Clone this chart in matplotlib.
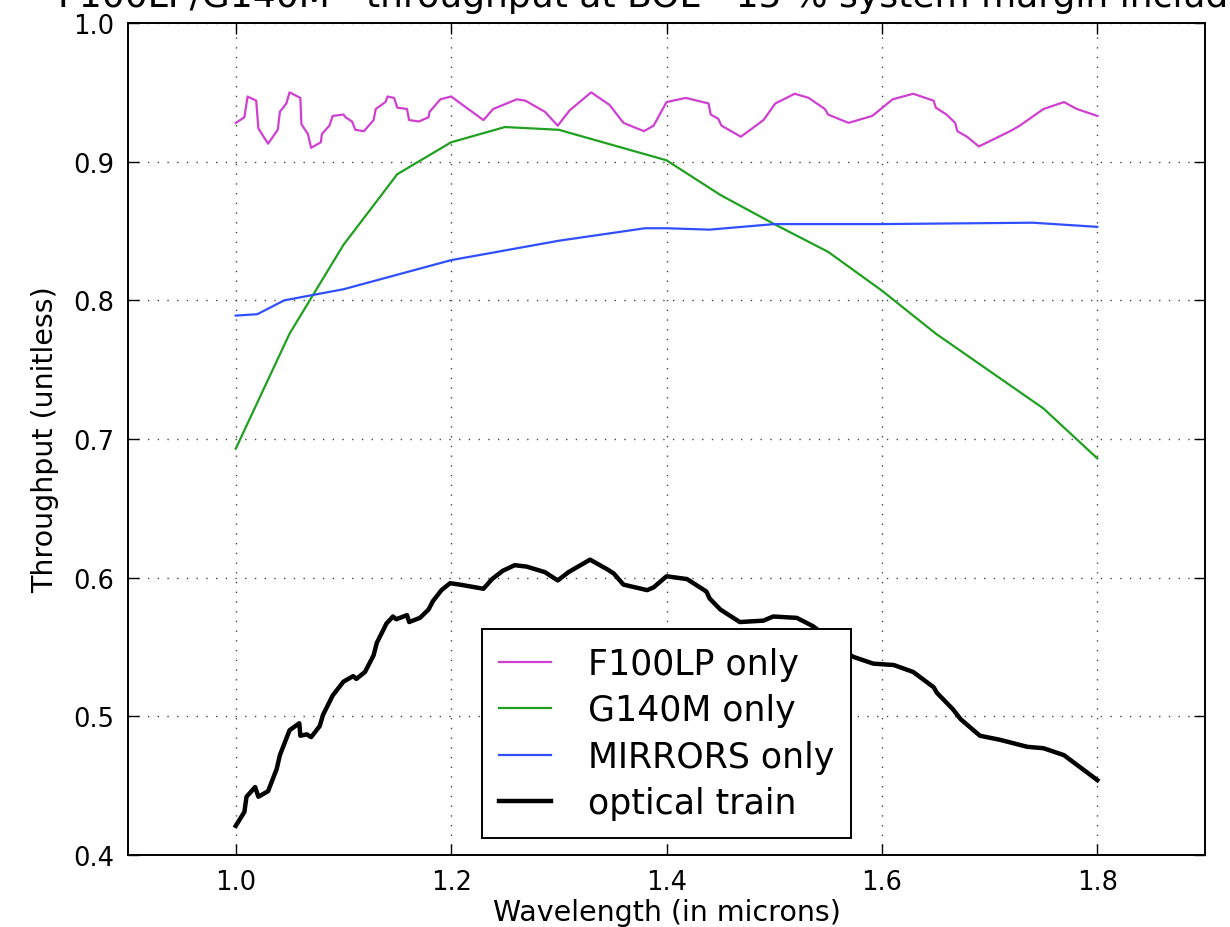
import matplotlib
matplotlib.use("Agg")
import matplotlib.pyplot as plt

# F100LP filter throughput
f100lp_wl = [1.000, 1.008, 1.011, 1.019, 1.021, 1.030, 1.039, 1.041, 1.047, 1.050,
             1.060, 1.061, 1.067, 1.070, 1.079, 1.080, 1.087, 1.090, 1.100, 1.102,
             1.108, 1.111, 1.119, 1.128, 1.130, 1.139, 1.141, 1.147, 1.150, 1.159,
             1.161, 1.170, 1.179, 1.180, 1.190, 1.200, 1.230, 1.239, 1.261, 1.269,
             1.287, 1.299, 1.310, 1.330, 1.347, 1.360, 1.379, 1.388, 1.400, 1.418,
             1.439, 1.441, 1.448, 1.451, 1.469, 1.490, 1.501, 1.519, 1.532, 1.547,
             1.550, 1.569, 1.591, 1.610, 1.629, 1.648, 1.650, 1.660, 1.668, 1.670,
             1.679, 1.690, 1.719, 1.728, 1.750, 1.769, 1.781, 1.800]
f100lp_tp = [0.928, 0.932, 0.947, 0.944, 0.924, 0.913, 0.923, 0.936, 0.942, 0.950,
             0.946, 0.927, 0.920, 0.910, 0.914, 0.920, 0.926, 0.933, 0.934, 0.932,
             0.929, 0.923, 0.922, 0.930, 0.938, 0.943, 0.947, 0.946, 0.939, 0.938,
             0.930, 0.929, 0.932, 0.936, 0.945, 0.947, 0.930, 0.938, 0.945, 0.944,
             0.936, 0.926, 0.937, 0.950, 0.941, 0.928, 0.922, 0.926, 0.943, 0.946,
             0.942, 0.934, 0.931, 0.926, 0.918, 0.930, 0.942, 0.949, 0.946, 0.938,
             0.934, 0.928, 0.933, 0.945, 0.949, 0.944, 0.939, 0.934, 0.928, 0.922,
             0.918, 0.911, 0.922, 0.926, 0.938, 0.943, 0.938, 0.933]

# G140M grating throughput
g140m_wl = [1.00, 1.05, 1.10, 1.15, 1.20, 1.25, 1.30, 1.40, 1.45, 1.50, 1.55,
            1.60, 1.65, 1.70, 1.75, 1.80]
g140m_tp = [0.693, 0.776, 0.840, 0.891, 0.914, 0.925, 0.923, 0.901, 0.876, 0.855,
            0.835, 0.807, 0.776, 0.749, 0.722, 0.686]

# mirrors throughput
mirrors_wl = [1.00, 1.02, 1.045, 1.10, 1.20, 1.30, 1.38, 1.40, 1.44, 1.50, 1.60,
              1.74, 1.80]
mirrors_tp = [0.789, 0.790, 0.800, 0.808, 0.829, 0.843, 0.852, 0.852, 0.851, 0.855,
              0.855, 0.856, 0.853]

# total optical train
train_wl = [1.000, 1.008, 1.010, 1.018, 1.021, 1.030, 1.038, 1.041, 1.050, 1.059,
            1.060, 1.066, 1.070, 1.078, 1.081, 1.090, 1.100, 1.109, 1.112, 1.120,
            1.128, 1.131, 1.140, 1.146, 1.149, 1.159, 1.161, 1.171, 1.179, 1.183,
            1.191, 1.199, 1.208, 1.230, 1.238, 1.248, 1.259, 1.270, 1.287, 1.299,
            1.309, 1.329, 1.345, 1.351, 1.360, 1.382, 1.388, 1.400, 1.419, 1.437,
            1.440, 1.450, 1.468, 1.490, 1.499, 1.521, 1.536, 1.573, 1.592, 1.611,
            1.629, 1.648, 1.651, 1.666, 1.673, 1.691, 1.710, 1.735, 1.750, 1.769,
            1.800]
train_tp = [0.421, 0.431, 0.442, 0.449, 0.442, 0.446, 0.462, 0.472, 0.490, 0.495,
            0.486, 0.487, 0.485, 0.493, 0.501, 0.515, 0.525, 0.529, 0.527, 0.532,
            0.544, 0.553, 0.567, 0.572, 0.570, 0.573, 0.568, 0.571, 0.577, 0.583,
            0.591, 0.596, 0.595, 0.592, 0.599, 0.605, 0.609, 0.608, 0.604, 0.598,
            0.604, 0.613, 0.606, 0.603, 0.595, 0.591, 0.593, 0.601, 0.599, 0.590,
            0.585, 0.577, 0.568, 0.569, 0.572, 0.571, 0.565, 0.543, 0.538, 0.537,
            0.532, 0.521, 0.517, 0.505, 0.498, 0.486, 0.483, 0.478, 0.477, 0.472,
            0.454]

x_ticks = [1.0, 1.2, 1.4, 1.6, 1.8]
y_ticks = [0.4, 0.5, 0.6, 0.7, 0.8, 0.9, 1.0]

fig = plt.figure(figsize=(12.3, 9.28), dpi=100)
ax = fig.add_axes([0.1041, 0.0776, 0.8756, 0.8965])

ax.plot(f100lp_wl, f100lp_tp, color='#d040d0', lw=1.6, label='F100LP only')
ax.plot(g140m_wl, g140m_tp, color='#20a020', lw=1.6, label='G140M only')
ax.plot(mirrors_wl, mirrors_tp, color='#3050ff', lw=1.6, label='MIRRORS only')
ax.plot(train_wl, train_tp, color='black', lw=3.2, label='optical train')

ax.set_xlim(0.9, 1.9)
ax.set_ylim(0.4, 1.0)
ax.set_xticks(x_ticks)
ax.set_yticks(y_ticks)
ax.tick_params(direction='in', top=True, right=True, length=8, width=1,
               labelsize=18.5, pad=10)
ax.grid(True, color='#444444', linestyle=(0, (1, 6)), lw=1.0)
for s in ax.spines.values():
    s.set_linewidth(1.4)

ax.set_xlabel('Wavelength (in microns)', fontsize=20.5, labelpad=2)
ax.set_ylabel('Throughput (unitless)', fontsize=20.5, labelpad=10)

# title runs off the top/right edge in the original
fig.text(666 / 1230, 1 - 7 / 928,
         'F100LP/G140M - throughput at BOL - 15 % system margin included',
         ha='center', va='baseline', fontsize=26)

leg = ax.legend(loc='lower center', fontsize=25, fancybox=False,
                framealpha=1, edgecolor='black', handlelength=1.5,
                handletextpad=1.05, borderpad=0.5, labelspacing=0.36,
                borderaxespad=0.5)
leg.get_frame().set_linewidth(1.4)

fig.savefig('out.png', dpi=100)
